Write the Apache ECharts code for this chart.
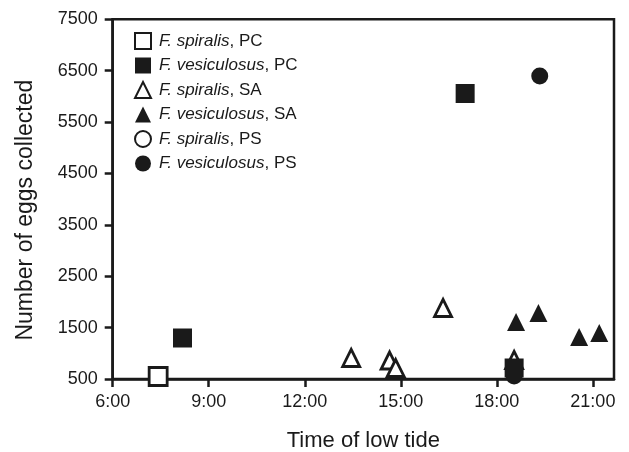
<!DOCTYPE html>
<html><head><meta charset="utf-8">
<script src="https://cdn.jsdelivr.net/npm/echarts@6/dist/echarts.min.js"></script>
<style>html,body{margin:0;padding:0;background:#fff}#c{width:629px;height:452px}</style>
</head><body><div id="c"></div>
<script>
// Time of low tide in decimal hours, number of eggs collected
const xTicks = [6, 9, 12, 15, 18, 21];
const yTicks = [500, 1500, 2500, 3500, 4500, 5500, 6500, 7500];
const spiralisPC = [[7.42, 549]];
const vesiculosusPC = [[8.18, 1298], [17.01, 6056], [18.54, 714]];
const spiralisSA = [[13.45, 909], [14.65, 860], [14.84, 714], [16.32, 1882], [18.54, 870]];
const vesiculosusSA = [[18.6, 1609], [19.3, 1784], [20.57, 1317], [21.2, 1395]];
const spiralisPS = [];
const vesiculosusPS = [[19.34, 6396], [18.54, 558]];
const seriesNames = ['F. spiralis, PC','F. vesiculosus, PC','F. spiralis, SA','F. vesiculosus, SA','F. spiralis, PS','F. vesiculosus, PS'];

const INK = '#1a1a1a';
const FONT = '"Liberation Sans", Arial, sans-serif';
const openStyle = {color:'#fff', borderColor:INK, borderWidth:2.8, opacity:1};
const fillStyle = {color:INK, borderColor:INK, borderWidth:0, opacity:1};

function mk(name, data, symbol, size, style, z){
  return {name, type:'scatter', data, symbol, symbolSize:size, itemStyle:style, z, emphasis:{disabled:true}};
}
const chart = echarts.init(document.getElementById('c'));
chart.setOption({
  animation:false,
  grid:{left:112.7, right:15, top:19.3, bottom:73, containLabel:false, outerBoundsMode:'none',
    show:true, borderColor:INK, borderWidth:2.5, backgroundColor:'transparent'},
  legend:{
    orient:'vertical', left:129, top:27, itemWidth:16, itemHeight:16, itemGap:7,
    data: seriesNames,
    formatter: n => { const p = n.split(', '); return '{i|' + p[0] + '}, ' + p[1]; },
    textStyle:{fontFamily:FONT, fontSize:17, color:INK, lineHeight:17, padding:[0,0,0,3],
      rich:{i:{fontStyle:'italic', fontFamily:FONT, fontSize:17, color:INK, lineHeight:17}}}
  },
  xAxis:{
    type:'value', min:6, max:21.66, interval:3,
    name:'Time of low tide', nameLocation:'middle', nameGap:51,
    nameTextStyle:{fontFamily:FONT, fontSize:22, color:INK},
    axisLine:{show:true, onZero:false, lineStyle:{color:INK, width:2.5}},
    axisTick:{show:true, length:8, lineStyle:{color:INK, width:2.5}},
    axisLabel:{fontFamily:FONT, fontSize:18, color:INK, margin:14, showMaxLabel:false,
      formatter: v => xTicks.includes(v) ? v + ':00' : ''},
    splitLine:{show:false}
  },
  yAxis:{
    type:'value', min:500, max:7500, interval:1000,
    name:'Number of eggs collected', nameLocation:'middle', nameGap:76,
    nameTextStyle:{fontFamily:FONT, fontSize:23, color:INK, padding:[0,22,0,0]},
    axisLine:{show:true, onZero:false, lineStyle:{color:INK, width:2.5}},
    axisTick:{show:true, length:8, lineStyle:{color:INK, width:2.5}},
    axisLabel:{fontFamily:FONT, fontSize:18, color:INK, margin:15,
      formatter: v => yTicks.includes(v) ? String(v) : ''},
    splitLine:{show:false}
  },
  series:[
    mk(seriesNames[0], spiralisPC, 'rect', 18, openStyle, 2),
    mk(seriesNames[1], vesiculosusPC, 'rect', 19, fillStyle, 4),
    mk(seriesNames[2], spiralisSA, 'triangle', 17, openStyle, 2),
    mk(seriesNames[3], vesiculosusSA, 'triangle', 18, fillStyle, 3),
    mk(seriesNames[4], spiralisPS, 'circle', 16, openStyle, 2),
    mk(seriesNames[5], vesiculosusPS, 'circle', 17, fillStyle, 3)
  ]
});
</script></body></html>
